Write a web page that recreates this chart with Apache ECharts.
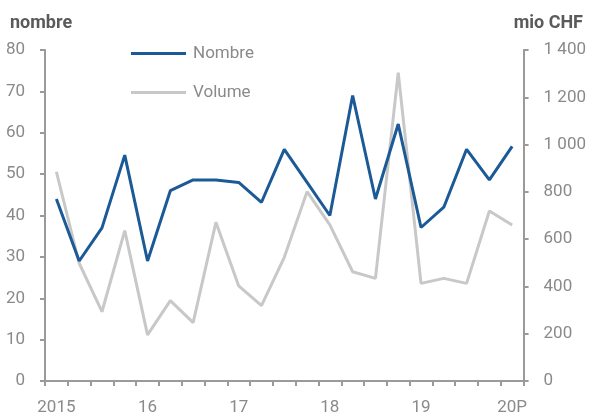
<!DOCTYPE html>
<html>
<head>
<meta charset="utf-8">
<script src="https://cdn.jsdelivr.net/npm/echarts@6/dist/echarts.min.js"></script>
<style>html,body{margin:0;padding:0;background:#fff}#c{width:589px;height:416px}</style>
</head>
<body>
<div id="c"></div>
<script>
var quarters = ['2015T1','2015T2','2015T3','2015T4','2016T1','2016T2','2016T3','2016T4','2017T1','2017T2','2017T3','2017T4','2018T1','2018T2','2018T3','2018T4','2019T1','2019T2','2019T3','2019T4','2020P'];
var tickLabels = ['2015','','','','16','','','','17','','','','18','','','','19','','','','20P'];
var nombre = [44, 29, 37, 54.6, 29, 46, 48.6, 48.6, 48, 43.2, 56, 48, 40, 69, 44, 62.1, 37.1, 42, 56, 48.6, 56.7];
var volume = [885, 498, 293, 636, 195, 340, 247, 671, 402, 319, 523, 801, 660, 462, 434, 1304, 413, 434, 413, 719, 660];
var leftTicks = [0, 80, 10];
var rightTicks = [0, 1400, 200];

var FONT = 'Roboto, "Noto Sans", sans-serif';
var AXIS = '#9a9a9a';
var LABEL = '#8a8a8a';
var chart = echarts.init(document.getElementById('c'), null, {renderer: 'canvas'});
function fmtThousands(v){ return String(v).replace(/\B(?=(\d{3})+(?!\d))/g, ' '); }
chart.setOption({
  animation: false,
  backgroundColor: '#fff',
  title: [
    {text: 'nombre', left: 5, top: 9, textStyle: {fontFamily: FONT, fontSize: 18, fontWeight: 'bold', color: '#5a5a5a'}},
    {text: 'mio CHF', right: 1, top: 9, textStyle: {fontFamily: FONT, fontSize: 18, fontWeight: 'bold', color: '#5a5a5a'}}
  ],
  legend: {
    orient: 'vertical', left: 126, top: 40, itemWidth: 55, itemHeight: 3, itemGap: 22,
    icon: 'rect',
    textStyle: {fontFamily: FONT, fontSize: 17, color: LABEL, padding: [0,0,0,2]},
    data: ['Nombre', 'Volume']
  },
  grid: {left: 45, right: 62, top: 50, bottom: 35, containLabel: false},
  xAxis: {
    type: 'category', data: quarters, boundaryGap: true,
    axisLine: {lineStyle: {color: AXIS, width: 2}},
    axisTick: {show: true, interval: 0, length: 5, lineStyle: {color: AXIS, width: 2}},
    axisLabel: {interval: 0, margin: 18, fontFamily: FONT, fontSize: 17, color: LABEL,
      formatter: function(v, i){ return tickLabels[i]; }},
    splitLine: {show: false}
  },
  yAxis: [
    {type: 'value', min: leftTicks[0], max: leftTicks[1], interval: leftTicks[2], position: 'left',
     axisLine: {show: true, lineStyle: {color: AXIS, width: 2}},
     axisTick: {show: true, length: 5, lineStyle: {color: AXIS, width: 2}},
     axisLabel: {margin: 20, fontFamily: FONT, fontSize: 17, color: LABEL},
     splitLine: {show: false}},
    {type: 'value', min: rightTicks[0], max: rightTicks[1], interval: rightTicks[2], position: 'right',
     axisLine: {show: true, lineStyle: {color: AXIS, width: 2}},
     axisTick: {show: true, length: 5, lineStyle: {color: AXIS, width: 2}},
     axisLabel: {margin: 20, fontFamily: FONT, fontSize: 17, color: LABEL, formatter: fmtThousands},
     splitLine: {show: false}}
  ],
  series: [
    {name: 'Volume', type: 'line', yAxisIndex: 1, data: volume, symbol: 'none',
     lineStyle: {color: '#c8c8c8', width: 3}, itemStyle: {color: '#c8c8c8'}, z: 2},
    {name: 'Nombre', type: 'line', yAxisIndex: 0, data: nombre, symbol: 'none',
     lineStyle: {color: '#1b5a96', width: 3}, itemStyle: {color: '#1b5a96'}, z: 3}
  ]
});
</script>
</body>
</html>
